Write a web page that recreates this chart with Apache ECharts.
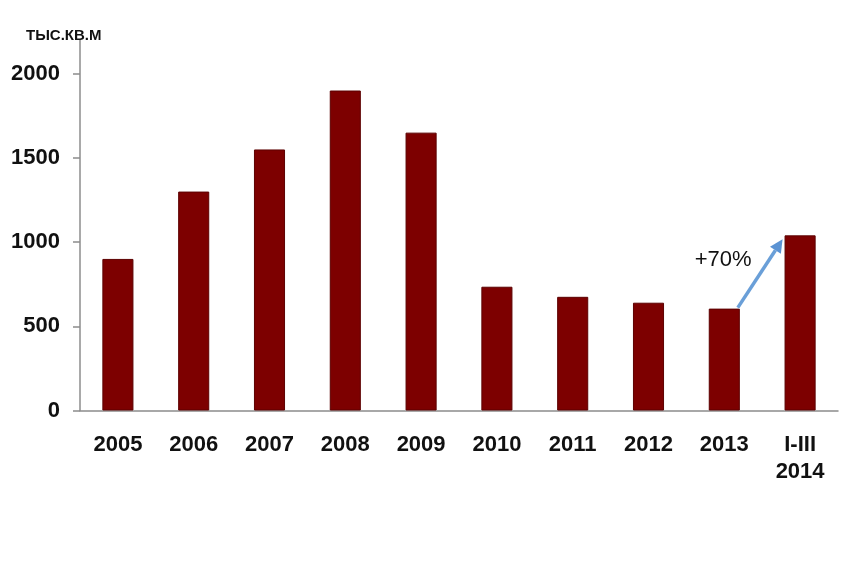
<!DOCTYPE html>
<html>
<head>
<meta charset="utf-8">
<script src="https://cdn.jsdelivr.net/npm/echarts@6/dist/echarts.min.js"></script>
<style>html,body{margin:0;padding:0;background:#fff;}#c{width:850px;height:575px;}</style>
</head>
<body>
<div id="c"></div>
<script>
var categories = ['2005','2006','2007','2008','2009','2010','2011','2012','2013','I-III\n2014'];
var values = [900, 1300, 1550, 1900, 1650, 735, 675, 640, 605, 1040];
var yTicks = [0, 500, 1000, 1500, 2000];
var unitLabel = 'ТЫС.КВ.М';
var growthLabel = '+70%';
var arrowFrom = 8, arrowTo = 9;

var FONT = "'Liberation Sans Narrow','Arial Narrow','Liberation Sans',sans-serif";
var chart = echarts.init(document.getElementById('c'));
chart.setOption({
  animation: false,
  backgroundColor: '#fff',
  title: {
    text: unitLabel, left: 21, top: 23,
    textStyle: {fontFamily: FONT, fontSize: 15, fontWeight: 'bold', color: '#111'}
  },
  grid: {left: 80, right: 12, top: 40, bottom: 164.5},
  xAxis: {
    type: 'category', data: categories,
    axisLine: {lineStyle: {color: '#8c8c8c', width: 1.5}},
    axisTick: {length: 6, lineStyle: {color: '#8c8c8c', width: 1.5}},
    axisLabel: {fontFamily: FONT, fontSize: 22, fontWeight: 'bold', color: '#111', margin: 21, lineHeight: 27, interval: 0}
  },
  yAxis: {
    type: 'value', min: 0, max: 2200, interval: 500,
    splitLine: {show: false},
    axisLine: {show: true, lineStyle: {color: '#8c8c8c', width: 1.5}},
    axisTick: {show: true, length: 7, lineStyle: {color: '#8c8c8c', width: 1.5}, customValues: yTicks},
    axisLabel: {fontFamily: FONT, fontSize: 22, fontWeight: 'bold', color: '#111', margin: 20, customValues: yTicks,
      formatter: function (v) { return String(v); }}
  },
  series: [{
    type: 'bar', data: values, barWidth: '41%',
    itemStyle: {color: '#7d0000', borderColor: '#5c0000', borderWidth: 1}
  }]
});

function drawArrow() {
  var a = chart.convertToPixel({seriesIndex: 0}, [arrowFrom, values[arrowFrom]]);
  var b = chart.convertToPixel({seriesIndex: 0}, [arrowTo, values[arrowTo]]);
  var band = b[0] - a[0];
  var half = band * 0.41 / 2;
  var x1 = a[0] + half - 2, y1 = a[1] - 1;
  var x2 = b[0] - half - 2, y2 = b[1] + 4;
  var ang = Math.atan2(y2 - y1, x2 - x1);
  var hl = 13, hw = 6.5;
  var bx = x2 - hl * Math.cos(ang), by = y2 - hl * Math.sin(ang);
  var px = -Math.sin(ang), py = Math.cos(ang);
  chart.setOption({
    graphic: [
      {type: 'line', shape: {x1: x1, y1: y1, x2: bx, y2: by}, style: {stroke: '#6a9fd8', lineWidth: 3.5}, z: 100},
      {type: 'polygon', shape: {points: [[x2, y2], [bx + px * hw, by + py * hw], [bx - px * hw, by - py * hw]]}, style: {fill: '#5b93d3'}, z: 100},
      {type: 'text', x: (x1 + x2) / 2 - 37, y: (y1 + y2) / 2 - 14, style: {text: growthLabel, fill: '#111', fontFamily: FONT, fontSize: 22, align: 'center', verticalAlign: 'middle'}, z: 100}
    ]
  });
}
drawArrow();
</script>
</body>
</html>
